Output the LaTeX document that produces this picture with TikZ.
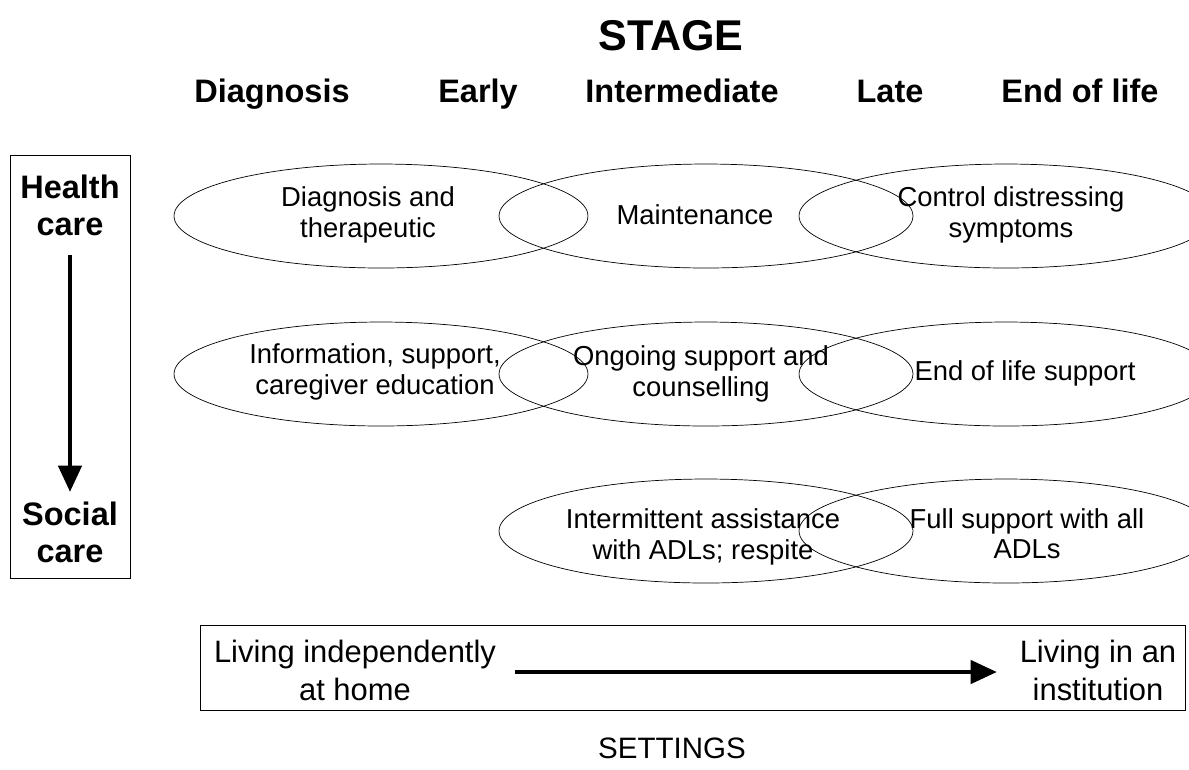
\documentclass[tikz,border=0pt]{standalone}
\usepackage{fontspec}
\setmainfont{Liberation Sans}
\usetikzlibrary{shapes.geometric, arrows.meta}

\begin{document}
\begin{tikzpicture}[x=0.02cm, y=-0.02cm, thin,
    stage/.style={font=\fontsize{18.5}{21}\selectfont\bfseries},
    care/.style={ellipse, draw, minimum width=8.28cm, minimum height=2.08cm, inner sep=0pt},
    caretext/.style={align=center, font=\fontsize{15.6}{17.2}\selectfont},
    setting/.style={align=center, font=\fontsize{17.6}{21.6}\selectfont},
    bigarrow/.style={line width=2.8pt, -{Triangle[length=15pt, width=13pt]}}]
            \useasboundingbox (0,0) rectangle (1189,769);
            \clip (0,0) rectangle (1189,769);
            % stages
            \node[font=\fontsize{24.5}{27}\selectfont\bfseries] (title) at (671,36) {STAGE};
            \node[stage, anchor=base] (diag) at (272,102) {Diagnosis};
            \node[stage, anchor=base] (early) at (478,102) {Early};
            \node[stage, anchor=base] (inter) at (682,102) {Intermediate};
            \node[stage, anchor=base] (late) at (890,102) {Late};
            \node[stage, anchor=base] (end) at (1080,102) {End of life};
            % health care to social care
            \draw (10,155) rectangle (130,578);
            \node[stage, align=center] (health) at (70,205) {Health\\care};
            \node[stage, align=center] (social) at (70,532) {Social\\care};
            \coordinate (hc) at (70,255); \coordinate (sc) at (70,492);
            \draw[bigarrow] (hc) -- (sc);
            % services
            \node[care] (dt) at (381,216) {};
            \node[care] (mt) at (706,216) {};
            \node[care] (cd) at (1006,216) {};
            \node[care] (is) at (381,374) {};
            \node[care] (os) at (706,374) {};
            \node[care] (es) at (1006,374) {};
            \node[care] (ia) at (706,531) {};
            \node[care] (fs) at (1006,531) {};
            \node[caretext] (dtt) at (368,215) {Diagnosis and\\therapeutic};
            \node[caretext] (mtt) at (695,215) {Maintenance};
            \node[caretext] (cdt) at (1011,215) {Control distressing\\symptoms};
            \node[caretext] (ist) at (375,372) {Information, support,\\caregiver education};
            \node[caretext] (ost) at (701,374) {Ongoing support and\\counselling};
            \node[caretext] (est) at (1025,373) {End of life support};
            \node[caretext] (iat) at (703,537) {Intermittent assistance\\with ADLs; respite};
            \node[caretext] (fst) at (1027,534) {Full support with all\\ADLs};
            % settings
            \draw (200,625) rectangle (1185,710);
            \node[setting] (home) at (355,670) {Living independently\\at home};
            \node[setting] (inst) at (1098,670) {Living in an\\institution};
            \coordinate (ha) at (515,672); \coordinate (ia2) at (997,672);
            \draw[bigarrow] (ha) -- (ia2);
            \node[font=\fontsize{16.8}{20}\selectfont] (settings) at (672,748) {SETTINGS};
        \end{tikzpicture}
\end{document}
